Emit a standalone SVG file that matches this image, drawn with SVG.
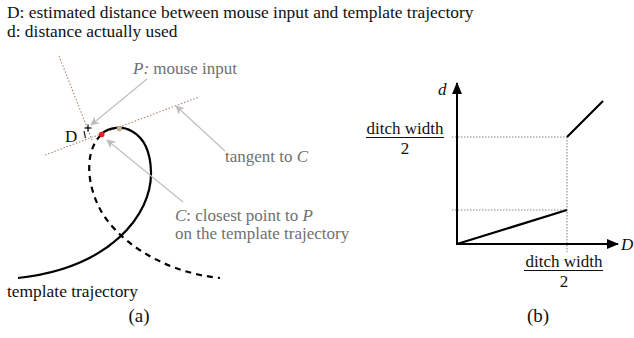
<svg xmlns="http://www.w3.org/2000/svg" width="634" height="338" viewBox="0 0 634 338">
<defs>
<style>
text{font-family:"Liberation Serif","Times New Roman",serif;font-size:17px;fill:#111}
.top{font-size:17.4px}
.g{fill:#707070}
.it{font-style:italic}
.cap{font-size:19px}
.brown{stroke:#a28a74;stroke-width:1.1;stroke-dasharray:1.5 1.8;fill:none}
.grid{stroke:#888;stroke-width:1.1;stroke-dasharray:1.5 1.5;fill:none}
.curve{stroke:#000;stroke-width:2.2;fill:none}
.dash{stroke:#000;stroke-width:2.2;fill:none;stroke-dasharray:6 5}
.ptr{stroke:#bdbdbd;stroke-width:1.1;fill:none;marker-end:url(#ga)}
.axis{stroke:#000;stroke-width:2;fill:none;marker-end:url(#ba)}
.bar{stroke:#111;stroke-width:1}
</style>
<marker id="ga" viewBox="0 0 10 10" refX="9" refY="5" markerWidth="9" markerHeight="9" markerUnits="userSpaceOnUse" orient="auto">
<path d="M0,0 L10,5 L0,10 L3,5 Z" fill="#bdbdbd"/>
</marker>
<marker id="ba" viewBox="0 0 12 10" refX="11" refY="5" markerWidth="12" markerHeight="10" markerUnits="userSpaceOnUse" orient="auto">
<path d="M0,0 L12,5 L0,10 Z" fill="#000"/>
</marker>
</defs>

<g id="legend">
<text x="7" y="18" class="top">D: estimated distance between mouse input and template trajectory</text>
<text x="7" y="37" class="top">d: distance actually used</text>
</g>

<g id="panel-a">
<g id="guides">
<line class="brown" x1="59" y1="56" x2="92" y2="140"/>
<line class="brown" x1="45" y1="155" x2="199" y2="97"/>
</g>
<g id="dashed-trajectory">
<path class="dash" d="M101,135 C88,147 84,175 98,205 C113,238 160,272 220,278"/>
</g>
<g id="template-trajectory">
<path class="curve" d="M101,134 C118,120 150,128 151,172 C152,215 110,268 18,278"/>
<text x="7" y="297" class="top">template trajectory</text>
</g>
<g id="mouse-input">
<line x1="84.5" y1="128" x2="91.5" y2="128" stroke="#000" stroke-width="1.2"/>
<line x1="88" y1="124.5" x2="88" y2="131.5" stroke="#000" stroke-width="1.2"/>
<line x1="84" y1="131" x2="85.5" y2="138" stroke="#222" stroke-width="1.2"/>
<text x="65" y="142">D</text>
</g>
<g id="points">
<circle cx="101.7" cy="134.5" r="2.8" fill="#ee1c1c"/>
<circle cx="119.3" cy="128.7" r="2.6" fill="#c2ad8f"/>
</g>
<g id="labels-a">
<text x="133" y="74" class="g"><tspan class="it">P:</tspan> mouse input</text>
<text x="225" y="162" class="g">tangent to <tspan class="it">C</tspan></text>
<text x="175" y="221" class="g"><tspan class="it">C</tspan>: closest point to <tspan class="it">P</tspan></text>
<text x="175" y="239" class="g">on the template trajectory</text>
</g>
<g id="pointers">
<line class="ptr" x1="147" y1="79" x2="91" y2="125"/>
<line class="ptr" x1="225" y1="151" x2="176" y2="106"/>
<line class="ptr" x1="183" y1="202" x2="107" y2="140"/>
</g>
<text x="139" y="322" class="cap" text-anchor="middle">(a)</text>
</g>

<g id="panel-b">
<g id="gridlines">
<line class="grid" x1="452" y1="137" x2="567" y2="137"/>
<line class="grid" x1="452" y1="210" x2="567" y2="210"/>
<line class="grid" x1="567" y1="137" x2="567" y2="252"/>
</g>
<g id="axes">
<line class="axis" x1="457" y1="245" x2="457" y2="83"/>
<line class="axis" x1="456" y1="244" x2="618" y2="244"/>
<text x="438" y="95" class="it">d</text>
<text x="621" y="250" class="it">D</text>
</g>
<g id="function">
<line class="curve" x1="457" y1="244" x2="567" y2="210"/>
<line class="curve" x1="567" y1="137" x2="603" y2="101"/>
</g>
<g id="y-label">
<text x="405" y="134" text-anchor="middle">ditch width</text>
<line class="bar" x1="366" y1="137.5" x2="444" y2="137.5"/>
<text x="405" y="154" text-anchor="middle">2</text>
</g>
<g id="x-label">
<text x="564" y="267" text-anchor="middle">ditch width</text>
<line class="bar" x1="524" y1="270.5" x2="603" y2="270.5"/>
<text x="564" y="287" text-anchor="middle">2</text>
</g>
<text x="538" y="322" class="cap" text-anchor="middle">(b)</text>
</g>
</svg>
